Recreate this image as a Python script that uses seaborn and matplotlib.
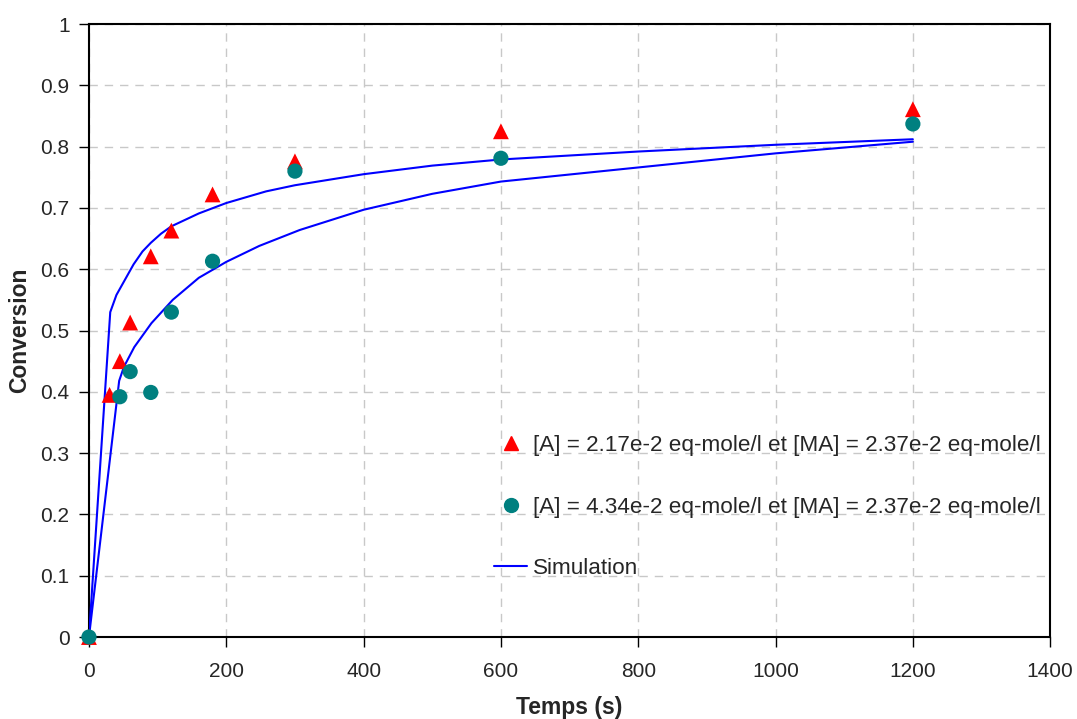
import matplotlib
matplotlib.use('Agg')
import matplotlib.pyplot as plt
from matplotlib.lines import Line2D
import seaborn as sns
import pandas as pd

# Measured points
temps_a = [0, 30, 45, 60, 90, 120, 180, 300, 600, 1200]
conv_a = [0, 0.395, 0.450, 0.513, 0.621, 0.663, 0.722, 0.776, 0.825, 0.861]

temps_b = [0, 45, 60, 90, 120, 180, 300, 600, 1200]
conv_b = [0, 0.392, 0.433, 0.399, 0.530, 0.613, 0.760, 0.781, 0.837]

# Simulation curves
sim_t_a = [0, 31, 40, 52, 65, 78, 90, 105, 120, 160, 200, 258, 300, 400, 500, 600, 800, 1000, 1200]
sim_c_a = [0, 0.530, 0.558, 0.582, 0.608, 0.629, 0.643, 0.658, 0.670, 0.691, 0.708, 0.727, 0.737,
           0.755, 0.769, 0.779, 0.792, 0.803, 0.812]

sim_t_b = [0, 44, 51, 66, 91, 122, 160, 200, 248, 307, 400, 500, 600, 800, 1000, 1200]
sim_c_b = [0, 0.418, 0.441, 0.473, 0.512, 0.550, 0.586, 0.612, 0.638, 0.664, 0.697,
           0.723, 0.743, 0.766, 0.789, 0.808]

label_a = '[A] = 2.17e-2 eq-mole/l et [MA] = 2.37e-2 eq-mole/l'
label_b = '[A] = 4.34e-2 eq-mole/l et [MA] = 2.37e-2 eq-mole/l'
label_sim = 'Simulation'

sns.set_style('ticks')
plt.rcParams['font.family'] = ['Liberation Sans', 'DejaVu Sans']

fig = plt.figure(figsize=(10.77, 7.19), dpi=100)
ax = fig.add_axes([0.0826, 0.114, 0.8925, 0.8526])

df_sa = pd.DataFrame({'t': sim_t_a, 'c': sim_c_a})
df_sb = pd.DataFrame({'t': sim_t_b, 'c': sim_c_b})
sns.lineplot(data=df_sa, x='t', y='c', color='#0000ff', lw=1.5, ax=ax, legend=False, zorder=3)
sns.lineplot(data=df_sb, x='t', y='c', color='#0000ff', lw=1.5, ax=ax, legend=False, zorder=3)

df_a = pd.DataFrame({'t': temps_a, 'c': conv_a})
df_b = pd.DataFrame({'t': temps_b, 'c': conv_b})
sns.scatterplot(data=df_a, x='t', y='c', marker='^', color='#ff0000', s=130,
                edgecolor='none', ax=ax, legend=False, zorder=4, clip_on=False)
sns.scatterplot(data=df_b, x='t', y='c', marker='o', color='#008080', s=120,
                edgecolor='none', ax=ax, legend=False, zorder=4, clip_on=False)

ax.set_xlim(0, 1400)
ax.set_ylim(0, 1)
ax.set_xticks(range(0, 1401, 200))
ax.set_yticks([i / 10 for i in range(11)])
ax.set_yticklabels(['0', '0.1', '0.2', '0.3', '0.4', '0.5', '0.6', '0.7', '0.8', '0.9', '1'])
ax.tick_params(axis='both', direction='out', length=7, width=1, labelsize=15, color='black')
ax.tick_params(axis='x', pad=11)
ax.tick_params(axis='y', pad=7)
ax.grid(True, color='#c8c8c8', linestyle=(0, (6, 5)), lw=1)
for sp in ax.spines.values():
    sp.set_color('black')
    sp.set_linewidth(1.5)

ax.set_xlabel('Temps (s)', fontsize=16.5, fontweight='bold', labelpad=11)
ax.set_ylabel('Conversion', fontsize=16.5, fontweight='bold', labelpad=7)

handles = [
    Line2D([], [], marker='^', color='#ff0000', linestyle='none', markersize=10),
    Line2D([], [], marker='o', color='#008080', linestyle='none', markersize=10),
    Line2D([], [], color='#0000ff', lw=1.5),
]
ax.legend(handles, [label_a, label_b, label_sim], loc='center left', bbox_to_anchor=(0.41, 0.212),
          frameon=False, fontsize=16.2, labelspacing=1.8, handlelength=1.44,
          handletextpad=0.27, borderpad=0)

fig.savefig('out.png', dpi=100)
